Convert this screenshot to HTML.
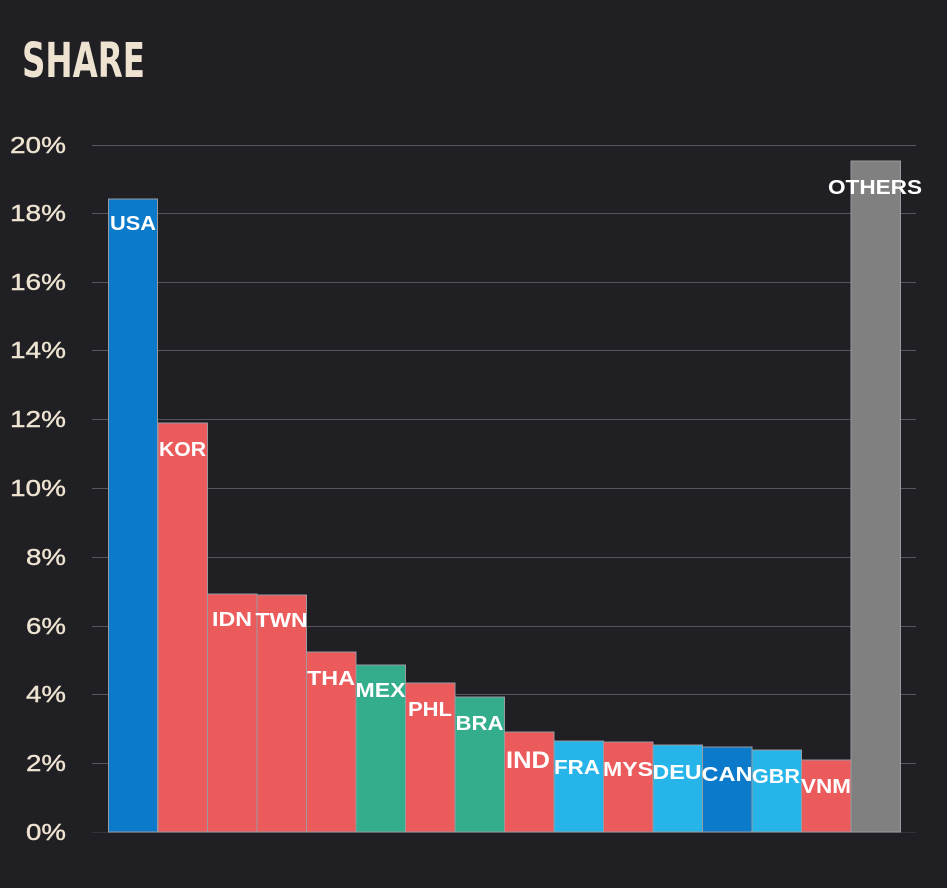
<!DOCTYPE html>
<html><head><meta charset="utf-8"><style>
body{margin:0;background:#1f1f24;}
svg{display:block}
</style></head><body>
<svg width="947" height="888" xmlns="http://www.w3.org/2000/svg" font-family="Liberation Sans, DejaVu Sans, sans-serif">
<rect width="947" height="888" fill="#1f1f24"/>
<text x="22" y="77" font-family="DejaVu Sans Condensed, Liberation Sans Narrow, sans-serif" font-weight="bold" font-size="48" fill="#ede3d0" textLength="123" lengthAdjust="spacingAndGlyphs">SHARE</text>
<g stroke="#55555b" stroke-width="1">
<line x1="92" x2="916" y1="145.5" y2="145.5"/>
<line x1="92" x2="916" y1="213.5" y2="213.5"/>
<line x1="92" x2="916" y1="282.5" y2="282.5"/>
<line x1="92" x2="916" y1="350.5" y2="350.5"/>
<line x1="92" x2="916" y1="419.5" y2="419.5"/>
<line x1="92" x2="916" y1="488.5" y2="488.5"/>
<line x1="92" x2="916" y1="557.5" y2="557.5"/>
<line x1="92" x2="916" y1="626.5" y2="626.5"/>
<line x1="92" x2="916" y1="694.5" y2="694.5"/>
<line x1="92" x2="916" y1="763.5" y2="763.5"/>
<line x1="92" x2="916" y1="832.5" y2="832.5" stroke="#33333a"/>
</g>
<g fill="#ede3d0" font-size="23" text-anchor="end" stroke="#ede3d0" stroke-width="0.4">
<text x="66" y="153" textLength="56" lengthAdjust="spacingAndGlyphs">20%</text><text x="66" y="221" textLength="56" lengthAdjust="spacingAndGlyphs">18%</text><text x="66" y="290" textLength="56" lengthAdjust="spacingAndGlyphs">16%</text>
<text x="66" y="358" textLength="56" lengthAdjust="spacingAndGlyphs">14%</text><text x="66" y="427" textLength="56" lengthAdjust="spacingAndGlyphs">12%</text><text x="66" y="496" textLength="56" lengthAdjust="spacingAndGlyphs">10%</text>
<text x="66" y="565" textLength="40" lengthAdjust="spacingAndGlyphs">8%</text><text x="66" y="634" textLength="40" lengthAdjust="spacingAndGlyphs">6%</text><text x="66" y="702" textLength="40" lengthAdjust="spacingAndGlyphs">4%</text>
<text x="66" y="771" textLength="40" lengthAdjust="spacingAndGlyphs">2%</text><text x="66" y="840" textLength="40" lengthAdjust="spacingAndGlyphs">0%</text>
</g>
<g stroke="#9a9aa0" stroke-width="1">
<rect x="108.5" y="199" width="49" height="633" fill="#0c7acb"/>
<rect x="158" y="423" width="49.5" height="409" fill="#ec5b5b"/>
<rect x="207.5" y="594" width="49.5" height="238" fill="#ec5b5b"/>
<rect x="257" y="595" width="49.5" height="237" fill="#ec5b5b"/>
<rect x="306.5" y="652" width="49.5" height="180" fill="#ec5b5b"/>
<rect x="356" y="665" width="49.5" height="167" fill="#33ad8c"/>
<rect x="405.5" y="683" width="49.5" height="149" fill="#ec5b5b"/>
<rect x="455" y="697" width="49.5" height="135" fill="#33ad8c"/>
<rect x="504.5" y="732" width="49.5" height="100" fill="#ec5b5b"/>
<rect x="554" y="741" width="49.5" height="91" fill="#27b5e9"/>
<rect x="603.5" y="742" width="49.5" height="90" fill="#ec5b5b"/>
<rect x="653" y="745" width="49.5" height="87" fill="#27b5e9"/>
<rect x="702.5" y="747" width="49.5" height="85" fill="#0c7acb"/>
<rect x="752" y="750" width="49.5" height="82" fill="#27b5e9"/>
<rect x="801.5" y="760" width="49.5" height="72" fill="#ec5b5b"/>
<rect x="851" y="161" width="49.5" height="671" fill="#808080"/>
</g>
<g fill="#fff" font-weight="bold" text-anchor="middle" font-size="20">
<text x="133" y="230" textLength="46" lengthAdjust="spacingAndGlyphs">USA</text>
<text x="182.5" y="456" textLength="47" lengthAdjust="spacingAndGlyphs">KOR</text>
<text x="232" y="626" textLength="40" lengthAdjust="spacingAndGlyphs">IDN</text>
<text x="281.5" y="627" textLength="52" lengthAdjust="spacingAndGlyphs">TWN</text>
<text x="331" y="685" textLength="48" lengthAdjust="spacingAndGlyphs">THA</text>
<text x="380.5" y="697" textLength="50" lengthAdjust="spacingAndGlyphs">MEX</text>
<text x="430" y="716" textLength="44" lengthAdjust="spacingAndGlyphs">PHL</text>
<text x="479.5" y="730" textLength="48" lengthAdjust="spacingAndGlyphs">BRA</text>
<text x="528" y="768" font-size="24" textLength="44" lengthAdjust="spacingAndGlyphs">IND</text>
<text x="577" y="774" textLength="46" lengthAdjust="spacingAndGlyphs">FRA</text>
<text x="628" y="776" textLength="50" lengthAdjust="spacingAndGlyphs">MYS</text>
<text x="677" y="779" textLength="49" lengthAdjust="spacingAndGlyphs">DEU</text>
<text x="727" y="781" textLength="51" lengthAdjust="spacingAndGlyphs">CAN</text>
<text x="776" y="783" textLength="48" lengthAdjust="spacingAndGlyphs">GBR</text>
<text x="826" y="793" textLength="50" lengthAdjust="spacingAndGlyphs">VNM</text>
<text x="875" y="194" textLength="94" lengthAdjust="spacingAndGlyphs">OTHERS</text>
</g>
</svg>
</body></html>
